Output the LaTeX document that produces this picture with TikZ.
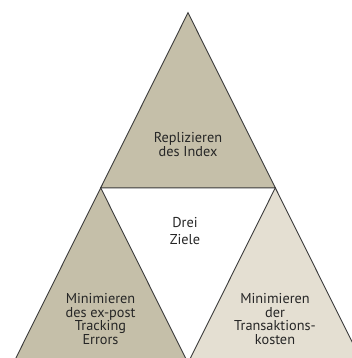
\documentclass[tikz,border=0pt]{standalone}
\usepackage{fontspec}
\setmainfont{PT Sans}
\definecolor{darktan}{HTML}{C5BFA9}
\definecolor{lighttan}{HTML}{E4DFD2}
\definecolor{edgegray}{HTML}{3C3C3C}
\tikzset{
  tri/.style={draw=edgegray, line width=0.9pt, line join=miter},
  lbl/.style={align=center, inner sep=0pt, font=\fontsize{14.3}{13.8}\selectfont, text=black!85},
}
\begin{document}
\begin{tikzpicture}[x=1pt,y=-1pt]
\useasboundingbox (0,0) rectangle (352,358);
\clip (0,0) rectangle (352,358);
\coordinate (A) at (188,12.7);
\coordinate (B) at (13.4,363);
\coordinate (C) at (362.6,363);
\coordinate (AB) at (100.7,187.85);
\coordinate (AC) at (275.3,187.85);
\coordinate (BC) at (188,363);
\fill[white] (0,0) rectangle (352,358);
\filldraw[tri, fill=darktan] (A) -- (AC) -- (AB) -- cycle;
\filldraw[tri, fill=darktan] (AB) -- (BC) -- (B) -- cycle;
\filldraw[tri, fill=lighttan] (AC) -- (C) -- (BC) -- cycle;
\node[lbl] (top) at (188,144.5) {Replizieren\\des Index};
\node[lbl] (mid) at (185,231) {Drei\\[4pt]Ziele};
\node[lbl] (left) at (100.5,319) {Minimieren\\des ex-post\\Tracking\\Errors};
\node[lbl] (right) at (275,319) {Minimieren\\der\\Transaktions-\\kosten};
\end{tikzpicture}
\end{document}
